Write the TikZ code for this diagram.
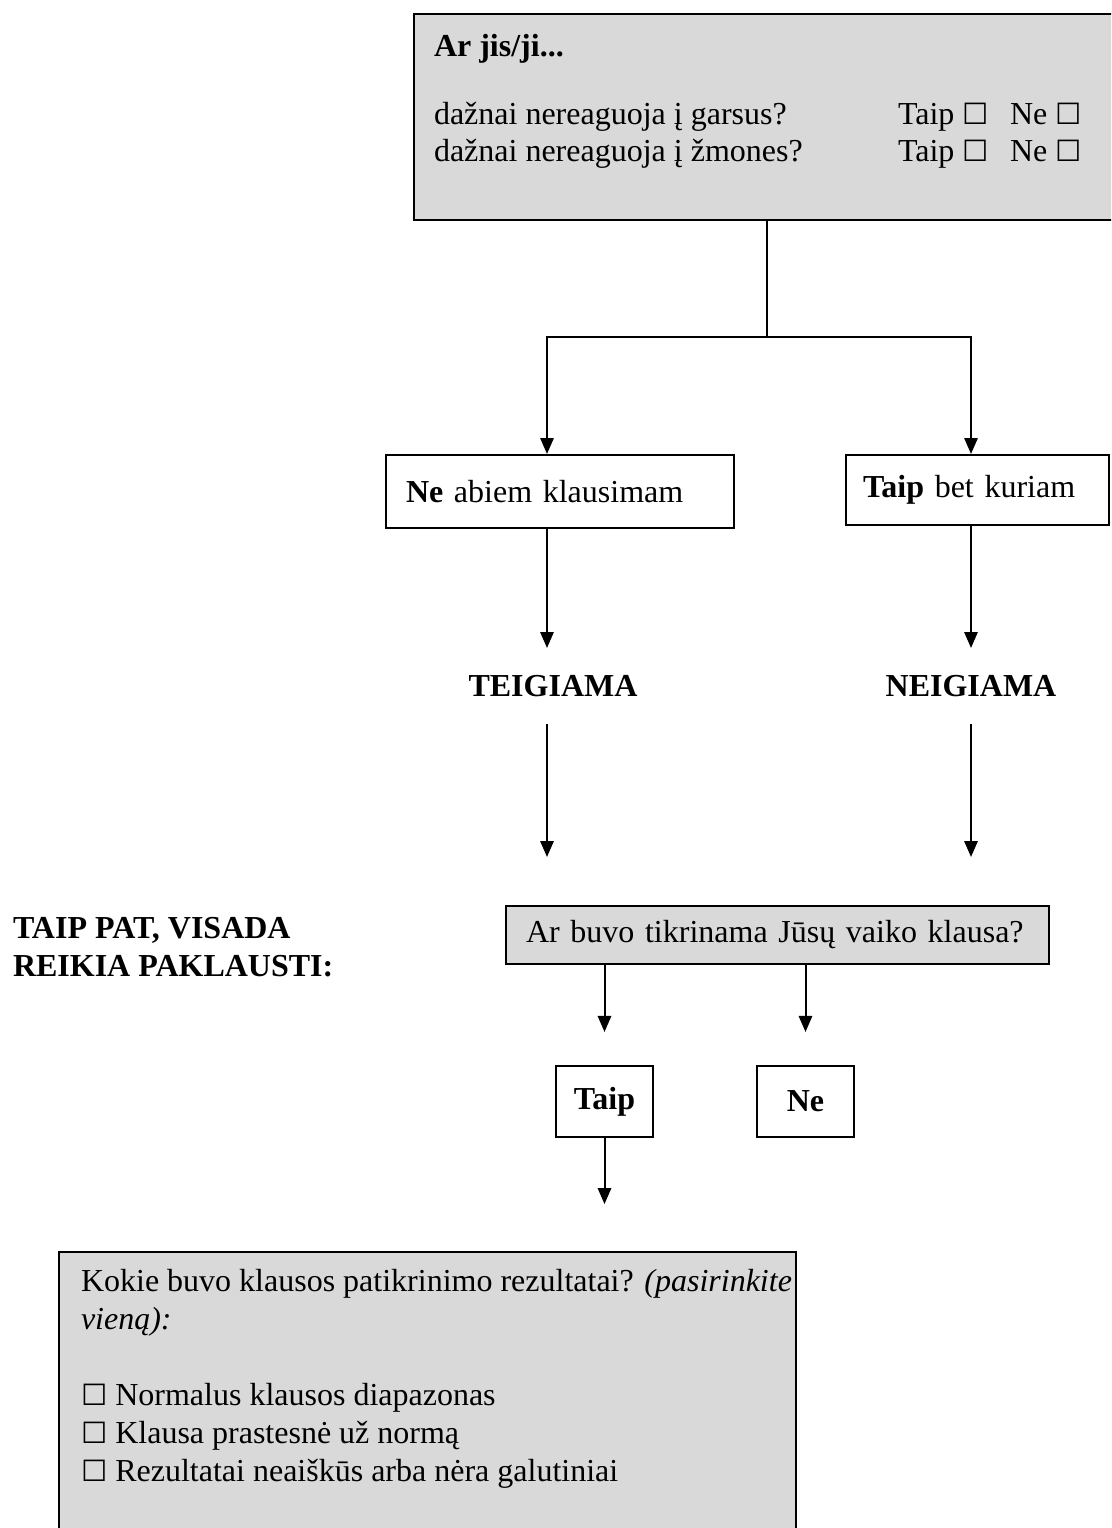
\documentclass[tikz,border=0pt]{standalone}
\usepackage{fontspec}
\setmainfont{Liberation Serif}
\newfontfamily\boxfont{DejaVu Sans}
\usetikzlibrary{arrows.meta}
\newcommand\tickbox{{\boxfont\fontsize{11pt}{11pt}\selectfont ☐}}
\begin{document}
\begin{tikzpicture}[x=0.375pt,y=-0.375pt,
    font=\fontsize{12pt}{14pt}\selectfont,
    line width=0.75pt,
    greybox/.style={draw,fill=black!15,anchor=north west},
    whitebox/.style={draw,fill=white,anchor=north west},
    txt/.style={anchor=base west,inner sep=0pt},
    verdict/.style={font=\fontsize{12pt}{14pt}\selectfont\bfseries,minimum height=27.75pt,inner sep=0pt},
    arr/.style={-{Triangle[length=6pt,width=5pt]}}]
    \useasboundingbox (0,0) rectangle (1111,1528);
    \clip (0,0) rectangle (1111,1528);
    \coordinate (colL) at (547,0);%kairys stulpelis
    \coordinate (colR) at (971,0);%desinys stulpelis
    \coordinate (split) at (767,337);
    % klausimai
    \node[greybox,minimum width=270pt,minimum height=77.25pt] (ask) at (413,13) {};
    \foreach \y/\t [count=\i] in {56/{\textbf{Ar jis/ji...}},124/{dažnai nereaguoja į garsus?},161/{dažnai nereaguoja į žmones?}}
        \node[txt] (q\i) at (433,\y) {\t};
    \foreach \y [count=\i] in {124,161}
        \node[txt] (a\i) at (897,\y) {Taip \tickbox\hspace{8pt}Ne \tickbox};
    \node[whitebox,minimum height=27.375pt,inner xsep=7.5pt,text width=115.5pt,align=left] (no) at (385,454) {\textbf{Ne} abiem klausimam};
    \node[whitebox,minimum height=26.25pt,inner xsep=6.375pt,text width=85.875pt,align=left] (yes) at (845,454) {\textbf{Taip} bet kuriam};
    \node[verdict] (teig) at (553,686) {TEIGIAMA};
    \node[verdict] (neig) at (971,686) {NEIGIAMA};
    \foreach \y/\t [count=\i] in {938/{TAIP PAT, VISADA},976/{REIKIA PAKLAUSTI:}}
        \node[txt,font=\fontsize{12pt}{14pt}\selectfont\bfseries] (also\i) at (12,\y) {\t};
    \node[greybox,minimum height=21.75pt,inner xsep=7.5pt,text width=188.6pt,align=left] (check) at (505,905) {Ar buvo tikrinama Jūsų vaiko klausa?};
    \node[whitebox,minimum width=36.375pt,minimum height=26.625pt,font=\fontsize{12pt}{14pt}\selectfont\bfseries] (yes2) at (555,1065) {Taip};
    \node[whitebox,minimum width=36.375pt,minimum height=26.625pt,font=\fontsize{12pt}{14pt}\selectfont\bfseries] (no2) at (756,1065) {Ne};
    % rezultatai
    \node[greybox,minimum width=276.4pt,minimum height=125pt] (result) at (58,1251) {};
    \foreach \y/\t [count=\i] in {1291/{Kokie buvo klausos patikrinimo rezultatai? \textit{(pasirinkite}},1329/{\textit{vieną):}},1405/{\tickbox\ Normalus klausos diapazonas},1443/{\tickbox\ Klausa prastesnė už normą},1481/{\tickbox\ Rezultatai neaiškūs arba nėra galutiniai}}
        \node[txt] (r\i) at (80,\y) {\t};
    % rodykles
    \draw (ask.south -| split) -- (split);
    \draw[arr] (split) -| (no.north -| colL);
    \draw[arr] (split) -| (yes.north -| colR);
    \foreach \a/\b/\c in {no/teig/colL,yes/neig/colR}
        \draw[arr] (\a.south -| \c) -- (\b.north -| \c);
    \foreach \a/\c in {teig/colL,neig/colR}
        \draw[arr,shorten >=18pt] (\a.south -| \c) -- (check.north -| \c);
    \foreach \b in {yes2,no2}
        \draw[arr,shorten >=12.4pt] (check.south -| \b) -- (\b.north);
    \draw[arr,shorten >=17.6pt] (yes2.south) -- (result.north -| yes2.south);
\end{tikzpicture}
\end{document}
